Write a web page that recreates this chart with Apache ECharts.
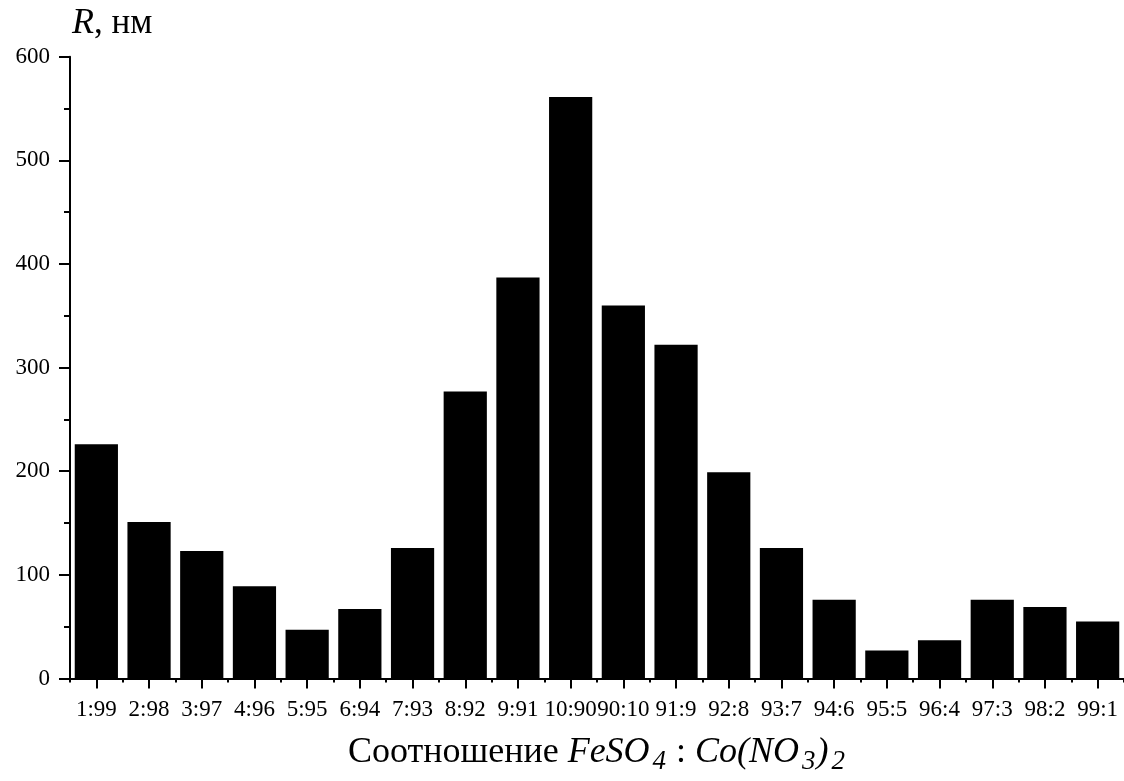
<!DOCTYPE html>
<html>
<head>
<meta charset="utf-8">
<script src="https://cdn.jsdelivr.net/npm/echarts@6/dist/echarts.min.js"></script>
<style>
html,body{margin:0;padding:0;background:#fff;}
#chart{width:1124px;height:781px;}
</style>
</head>
<body>
<div id="chart"></div>
<script>
var categories = ['1:99','2:98','3:97','4:96','5:95','6:94','7:93','8:92','9:91','10:90','90:10','91:9','92:8','93:7','94:6','95:5','96:4','97:3','98:2','99:1'];
var radiusValues = [226,151,123,89,47,67,126,277,387,561,360,322,199,126,76,27,37,76,69,55];
var yTicks = {min: 0, max: 600, interval: 100};
var yAxisTitle = '{i|R}{n|, нм}';
var xAxisTitle = '{n|Соотношение }{i|FeSO}{s|4}{n| : }{i|Co(NO}{s|3}{i|)}{s|2}';

var FONT = '"Liberation Serif", "Times New Roman", serif';
var chart = echarts.init(document.getElementById('chart'), null, {renderer: 'canvas'});
chart.setOption({
  backgroundColor: '#ffffff',
  animation: false,
  grid: {left: 70, top: 56.7, width: 1060, height: 621.8, containLabel: false},
  xAxis: [{
    type: 'category',
    data: categories,
    position: 'bottom',
    axisLine: {show: true, lineStyle: {color: '#000', width: 2}},
    axisTick: {show: true, alignWithLabel: true, length: 10, lineStyle: {color: '#000', width: 2}},
    axisLabel: {show: true, interval: 0, color: '#000', fontFamily: FONT, fontSize: 23, margin: 20},
    splitLine: {show: false}
  }, {
    type: 'category',
    data: categories,
    position: 'bottom',
    axisLine: {show: false},
    axisTick: {show: true, length: 4, interval: 0, lineStyle: {color: '#000', width: 2}},
    axisLabel: {show: false},
    splitLine: {show: false}
  }],
  yAxis: {
    type: 'value',
    min: yTicks.min,
    max: yTicks.max,
    interval: yTicks.interval,
    axisLine: {show: true, lineStyle: {color: '#000', width: 2}},
    axisTick: {show: true, length: 11, lineStyle: {color: '#000', width: 2}},
    minorTick: {show: true, splitNumber: 2, length: 6, lineStyle: {color: '#000', width: 2}},
    axisLabel: {color: '#000', fontFamily: FONT, fontSize: 23, margin: 20},
    splitLine: {show: false}
  },
  series: [{
    type: 'bar',
    data: radiusValues,
    xAxisIndex: 0,
    barCategoryGap: '18%',
    itemStyle: {color: '#000'}
  }],
  graphic: [{
    type: 'text',
    x: 72,
    y: 6,
    style: {
      text: yAxisTitle,
      fill: '#000',
      align: 'left',
      verticalAlign: 'top',
      rich: {
        i: {fontFamily: FONT, fontSize: 36, fontStyle: 'italic', lineHeight: 36, fill: '#000'},
        n: {fontFamily: FONT, fontSize: 35, lineHeight: 36, fill: '#000'}
      }
    }
  }, {
    type: 'text',
    x: 597,
    y: 731,
    style: {
      text: xAxisTitle,
      fill: '#000',
      align: 'center',
      verticalAlign: 'top',
      rich: {
        n: {fontFamily: FONT, fontSize: 36, lineHeight: 44, fill: '#000'},
        i: {fontFamily: FONT, fontSize: 36, fontStyle: 'italic', lineHeight: 44, fill: '#000'},
        s: {fontFamily: FONT, fontSize: 27, fontStyle: 'italic', lineHeight: 16, verticalAlign: 'bottom', padding: [0, 1, 0, 3], fill: '#000'}
      }
    }
  }]
});
</script>
</body>
</html>
